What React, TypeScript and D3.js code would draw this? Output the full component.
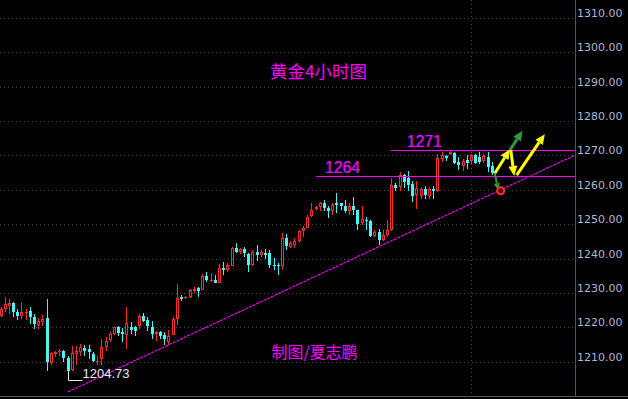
import React from 'react';
import * as d3 from 'd3';

const W = 628;
const H = 399;
const plotRight = 575;
const RED = '#ff2a2a';
const CYAN = '#4cf5f5';
const PINK = '#ff00ff';

// [open, high, low, close] per 4-hour bar
const ohlc: [number, number, number, number][] = [
  [1223.4, 1225.8, 1223.1, 1225.3], [1225.3, 1228.9, 1224.4, 1226.8], [1226.3, 1228.3, 1223.9, 1227.0],
  [1227.0, 1227.3, 1222.9, 1224.4], [1224.4, 1225.3, 1222.1, 1223.4], [1223.4, 1227.3, 1222.4, 1224.6],
  [1224.2, 1225.2, 1222.1, 1224.4], [1224.7, 1226.0, 1221.0, 1222.9], [1222.9, 1223.9, 1219.5, 1221.0],
  [1220.8, 1222.7, 1219.5, 1221.9], [1221.5, 1223.7, 1220.5, 1222.4], [1222.6, 1228.3, 1207.4, 1209.8],
  [1209.5, 1212.7, 1208.9, 1212.4], [1212.3, 1213.2, 1211.5, 1212.7], [1212.7, 1213.7, 1211.8, 1213.2],
  [1213.2, 1213.4, 1209.8, 1211.0], [1211.1, 1211.8, 1204.73, 1207.4], [1207.6, 1214.7, 1207.4, 1212.4],
  [1212.3, 1214.7, 1208.9, 1213.0], [1212.9, 1215.2, 1211.8, 1214.2], [1213.9, 1215.0, 1211.8, 1213.2],
  [1213.7, 1215.0, 1210.8, 1212.7], [1212.3, 1212.7, 1209.8, 1210.3], [1210.1, 1211.8, 1208.9, 1210.3],
  [1210.8, 1216.6, 1208.9, 1214.2], [1214.4, 1217.3, 1213.2, 1216.1], [1216.3, 1218.6, 1215.6, 1218.1],
  [1218.1, 1220.2, 1217.9, 1220.0], [1220.2, 1220.5, 1217.6, 1218.3], [1218.6, 1219.7, 1215.6, 1218.1],
  [1217.9, 1225.8, 1213.7, 1221.2], [1220.2, 1221.5, 1218.1, 1219.2], [1220.2, 1220.5, 1217.6, 1219.0],
  [1220.5, 1223.9, 1219.5, 1223.4], [1223.4, 1224.1, 1221.5, 1221.9], [1222.1, 1222.9, 1219.0, 1220.5],
  [1220.2, 1221.9, 1216.6, 1218.1], [1218.1, 1219.0, 1216.1, 1218.6], [1218.6, 1219.0, 1216.6, 1217.6],
  [1217.9, 1218.7, 1214.8, 1216.5], [1215.7, 1219.1, 1215.0, 1217.6], [1217.9, 1223.0, 1217.7, 1222.3],
  [1222.5, 1232.7, 1220.6, 1228.4], [1228.8, 1229.3, 1227.6, 1228.2], [1228.4, 1229.0, 1228.3, 1228.9],
  [1228.8, 1231.1, 1228.6, 1230.8], [1230.7, 1231.8, 1230.0, 1231.2], [1231.5, 1231.8, 1228.8, 1230.6],
  [1231.0, 1235.5, 1230.8, 1235.0], [1234.8, 1236.0, 1233.1, 1233.8], [1233.5, 1235.7, 1233.1, 1233.8],
  [1233.8, 1235.1, 1232.8, 1233.0], [1233.0, 1238.4, 1232.8, 1237.4], [1237.4, 1239.0, 1235.1, 1236.7],
  [1236.7, 1238.7, 1236.0, 1238.0], [1237.9, 1243.5, 1237.7, 1243.2], [1243.2, 1244.5, 1241.6, 1242.0],
  [1241.9, 1243.2, 1241.3, 1242.8], [1242.8, 1243.5, 1240.6, 1241.6], [1241.3, 1241.6, 1236.2, 1238.0],
  [1238.2, 1242.5, 1237.7, 1242.0], [1242.0, 1244.0, 1239.3, 1241.1], [1240.9, 1242.5, 1240.6, 1242.0],
  [1241.6, 1242.8, 1239.9, 1241.1], [1241.6, 1242.5, 1237.4, 1238.0], [1238.2, 1240.3, 1236.7, 1237.9],
  [1238.2, 1238.7, 1235.1, 1237.7], [1237.7, 1247.4, 1236.7, 1245.9], [1245.9, 1247.1, 1242.5, 1243.7],
  [1243.5, 1245.0, 1243.2, 1244.5], [1244.0, 1246.1, 1243.0, 1245.2], [1245.2, 1248.4, 1244.5, 1247.9],
  [1247.9, 1249.6, 1246.4, 1249.0], [1249.0, 1252.7, 1248.8, 1252.2], [1252.4, 1256.1, 1252.0, 1254.2],
  [1254.4, 1255.2, 1254.2, 1255.0], [1255.0, 1256.6, 1253.7, 1256.3], [1256.3, 1257.1, 1253.7, 1254.7],
  [1254.7, 1255.2, 1251.8, 1253.7], [1253.7, 1256.1, 1252.7, 1255.6], [1256.3, 1259.0, 1253.2, 1255.6],
  [1256.1, 1256.3, 1254.2, 1255.2], [1255.2, 1257.1, 1253.2, 1253.7], [1253.7, 1256.1, 1252.7, 1255.2],
  [1255.2, 1257.9, 1252.7, 1254.2], [1254.0, 1254.2, 1248.4, 1250.1], [1250.3, 1255.2, 1249.8, 1251.5],
  [1251.3, 1252.2, 1248.4, 1250.8], [1250.8, 1251.3, 1246.4, 1246.6], [1246.6, 1248.4, 1246.2, 1247.6],
  [1247.6, 1248.6, 1244.0, 1245.5], [1245.5, 1248.4, 1245.0, 1246.9], [1246.9, 1251.3, 1246.4, 1248.2],
  [1248.2, 1263.4, 1247.9, 1261.5], [1261.5, 1262.1, 1259.8, 1260.5], [1260.8, 1265.2, 1259.8, 1264.2],
  [1264.2, 1264.7, 1260.5, 1262.2], [1263.4, 1265.6, 1259.8, 1261.5], [1261.8, 1262.7, 1256.4, 1258.2],
  [1258.6, 1262.7, 1254.5, 1260.5], [1258.2, 1260.8, 1257.4, 1260.3], [1260.3, 1261.1, 1257.4, 1258.4],
  [1258.2, 1260.8, 1257.4, 1260.3], [1260.3, 1261.1, 1257.2, 1259.8], [1259.8, 1270.5, 1259.5, 1269.2],
  [1269.0, 1271.0, 1268.1, 1270.0], [1269.8, 1270.0, 1268.5, 1269.2], [1270.5, 1271.3, 1270.2, 1271.0],
  [1270.7, 1271.0, 1267.6, 1267.9], [1268.1, 1269.5, 1265.9, 1267.1], [1266.9, 1269.0, 1265.6, 1268.5],
  [1268.8, 1270.0, 1266.1, 1267.9], [1268.5, 1270.5, 1267.6, 1270.0], [1270.0, 1270.5, 1267.6, 1267.9],
  [1269.5, 1271.0, 1267.6, 1268.1], [1268.3, 1270.5, 1267.9, 1269.8], [1269.5, 1271.0, 1265.2, 1266.6],
  [1267.0, 1268.0, 1264.3, 1264.8],
];

const priceTicks = [1210, 1220, 1230, 1240, 1250, 1260, 1270, 1280, 1290, 1300, 1310];

// horizontal resistance levels: price, starting bar, label position (bar)
const levels = [
  { value: 1264, from: 75, labelAt: 77.3, label: '1264' },
  { value: 1271.5, from: 93, labelAt: 96.8, label: '1271' },
];

// support trend line, [bar, price]
const trendLine: [number, number][] = [[16, 1201.2], [136.8, 1270.1]];

const lowMark = { bar: 16, value: 1204.73 };

// scenario arrows, [bar, price] from -> to
const arrows = [
  { from: [117.7, 1264.8], to: [118.5, 1259.9], color: '#2e9a3a', w: 2, head: 7 },
  { from: [117.7, 1264.8], to: [121.3, 1271.8], color: '#ffff00', w: 3, head: 10 },
  { from: [121.3, 1271.6], to: [124.3, 1277.2], color: '#2e9a3a', w: 3, head: 10 },
  { from: [121.5, 1271.6], to: [122.3, 1264.0], color: '#ffff00', w: 3, head: 10 },
  { from: [122.9, 1264.3], to: [129.6, 1276.2], color: '#ffff00', w: 3, head: 10 },
];
const circleMark = [119.1, 1259.7];

const title = '黄金4小时图';
const author = '制图/夏志鹏';

const x = d3.scaleLinear().domain([0, ohlc.length - 1]).range([0.5, 491.9]);
const y = d3.scaleLinear().domain([1210, 1290]).range([361.7, 86.7]);

function Arrow({ a }: { a: any }) {
  const x1 = x(a.from[0]), y1 = y(a.from[1]);
  const x2 = x(a.to[0]), y2 = y(a.to[1]);
  const ang = Math.atan2(y2 - y1, x2 - x1);
  const bx = x2 - Math.cos(ang) * a.head;
  const by = y2 - Math.sin(ang) * a.head;
  const hw = a.head * 0.45;
  const px = -Math.sin(ang) * hw, py = Math.cos(ang) * hw;
  return (
    <g>
      <line x1={x1} y1={y1} x2={bx} y2={by} stroke={a.color} strokeWidth={a.w} />
      <polygon points={`${x2},${y2} ${bx + px},${by + py} ${bx - px},${by - py}`} fill={a.color} />
    </g>
  );
}

export default function App() {
  const fmt = d3.format('.2f');
  const trend = d3.line<[number, number]>().x(d => x(d[0])).y(d => y(d[1]));
  const lowY = Math.round(y(lowMark.value)) + 0.5;
  const lowX = Math.round(x(lowMark.bar)) + 0.5;
  return (
    <svg width={W} height={H} style={{ position: 'absolute', left: 0, top: 0, display: 'block', background: '#000' }}>
      <rect width={W} height={H} fill="#000" />
      {priceTicks.map(v => {
        const gy = Math.round(y(v)) + 0.5;
        return (
          <g key={v}>
            <line x1={0} x2={plotRight} y1={gy} y2={gy} stroke="#4a4a4a" strokeDasharray="1,3" />
            <text x={577} y={gy - 1.5} fill="#a9b8d6" fontSize={11} fontFamily="DejaVu Sans">{fmt(v)}</text>
          </g>
        );
      })}
      <line x1={471.5} x2={471.5} y1={0} y2={396} stroke="#4a4a4a" strokeDasharray="1,3" />
      <line x1={plotRight + 0.5} x2={plotRight + 0.5} y1={0} y2={397} stroke="#4e5566" />
      <line x1={0} x2={W} y1={396.5} y2={396.5} stroke="#555" />

      <path d={trend(trendLine) || ''} fill="none" stroke={PINK} strokeWidth={1.1} strokeDasharray="3,1" />

      {ohlc.map(([o, h, l, c], i) => {
        const cx = Math.round(x(i));
        const up = c >= o;
        const color = up ? RED : CYAN;
        const top = Math.round(y(Math.max(o, c)));
        const bh = Math.max(1, Math.round(y(Math.min(o, c))) - top);
        const hi = Math.round(y(h));
        const lo = Math.round(y(l));
        return (
          <g key={i}>
            <line x1={cx + 0.5} x2={cx + 0.5} y1={hi} y2={top} stroke={color} />
            <line x1={cx + 0.5} x2={cx + 0.5} y1={top + bh} y2={lo} stroke={color} />
            {up && bh > 2
              ? <rect x={cx - 0.5} y={top + 0.5} width={2} height={bh - 1} fill="none" stroke={color} />
              : <rect x={cx - 1} y={top} width={3} height={bh} fill={color} />}
          </g>
        );
      })}

      {levels.map(lv => {
        const ly = Math.round(y(lv.value)) + 0.5;
        return (
          <g key={lv.label}>
            <line x1={Math.round(x(lv.from))} x2={plotRight} y1={ly} y2={ly} stroke={PINK} strokeWidth={1.2} />
            <text x={x(lv.labelAt) - 0.6} y={ly - 3.5} fill="#5050ff" opacity={0.55} fontSize={17} fontFamily="Liberation Sans" textLength={35} lengthAdjust="spacingAndGlyphs">{lv.label}</text>
            <text x={x(lv.labelAt)} y={ly - 3.5} fill={PINK} fontSize={17} fontFamily="Liberation Sans" textLength={35} lengthAdjust="spacingAndGlyphs">{lv.label}</text>
          </g>
        );
      })}

      <path d={`M${lowX},${lowY - 9}V${lowY}H${lowX + 14}`} fill="none" stroke="#e8e8e8" />
      <text x={82.5} y={lowY - 3} fill="#e8eef8" fontSize={13} fontFamily="Liberation Sans">{fmt(lowMark.value)}</text>

      {arrows.map((a, i) => <Arrow key={i} a={a} />)}
      <circle cx={x(circleMark[0])} cy={y(circleMark[1])} r={3.5} fill="#5a0000" stroke="#ff3030" strokeWidth={2} />

      <text x={270} y={78} fill={PINK} fontSize={17} fontFamily="Noto Sans CJK SC" textLength={97} lengthAdjust="spacingAndGlyphs">{title}</text>
      <text x={271.5} y={358} fill={PINK} fontSize={16} fontFamily="Noto Sans CJK SC" textLength={86} lengthAdjust="spacingAndGlyphs">{author}</text>
    </svg>
  );
}
